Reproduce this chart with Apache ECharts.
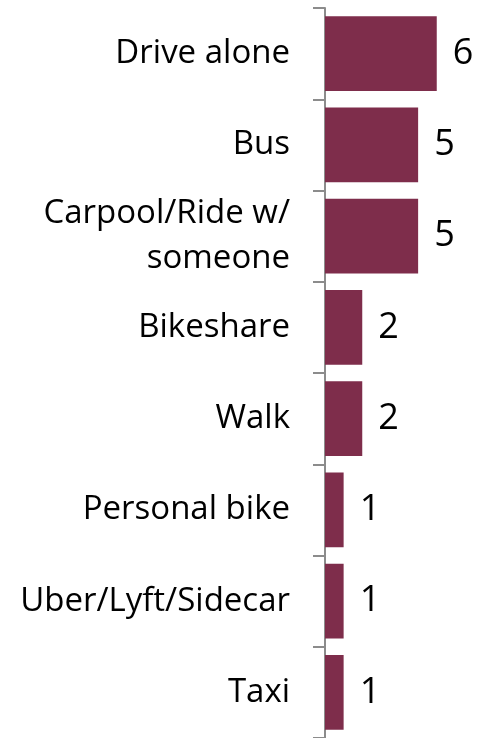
<!DOCTYPE html>
<html><head><meta charset="utf-8">
<script src="https://cdn.jsdelivr.net/npm/echarts@6/dist/echarts.min.js"></script>
<style>html,body{margin:0;padding:0;background:#fff}#c{width:478px;height:738px}</style>
</head><body><div id="c"></div>
<script>
const categories = ["Drive alone", "Bus", "Carpool/Ride w/\nsomeone", "Bikeshare", "Walk", "Personal bike", "Uber/Lyft/Sidecar", "Taxi"];
const values = [6, 5, 5, 2, 2, 1, 1, 1];
const chart = echarts.init(document.getElementById('c'));
chart.setOption({
  animation: false,
  grid: {left: 325, top: 8, bottom: 0, right: 4, containLabel: false},
  xAxis: {type: 'value', min: 0, max: 8, show: false},
  yAxis: {
    type: 'category', data: categories, inverse: true,
    axisLine: {show: true, lineStyle: {color: '#8c8c8c', width: 2}},
    axisTick: {show: true, length: 12, lineStyle: {color: '#8c8c8c', width: 2}},
    axisLabel: {margin: 35, color: '#000', fontFamily: 'Open Sans', fontSize: 33, lineHeight: 45, align: 'right'}
  },
  series: [{
    type: 'bar', data: values, barCategoryGap: '18%',
    itemStyle: {color: '#7e2d4b'},
    label: {show: true, position: 'right', distance: 16, color: '#000', fontFamily: 'Open Sans', fontSize: 36}
  }]
});
</script></body></html>
